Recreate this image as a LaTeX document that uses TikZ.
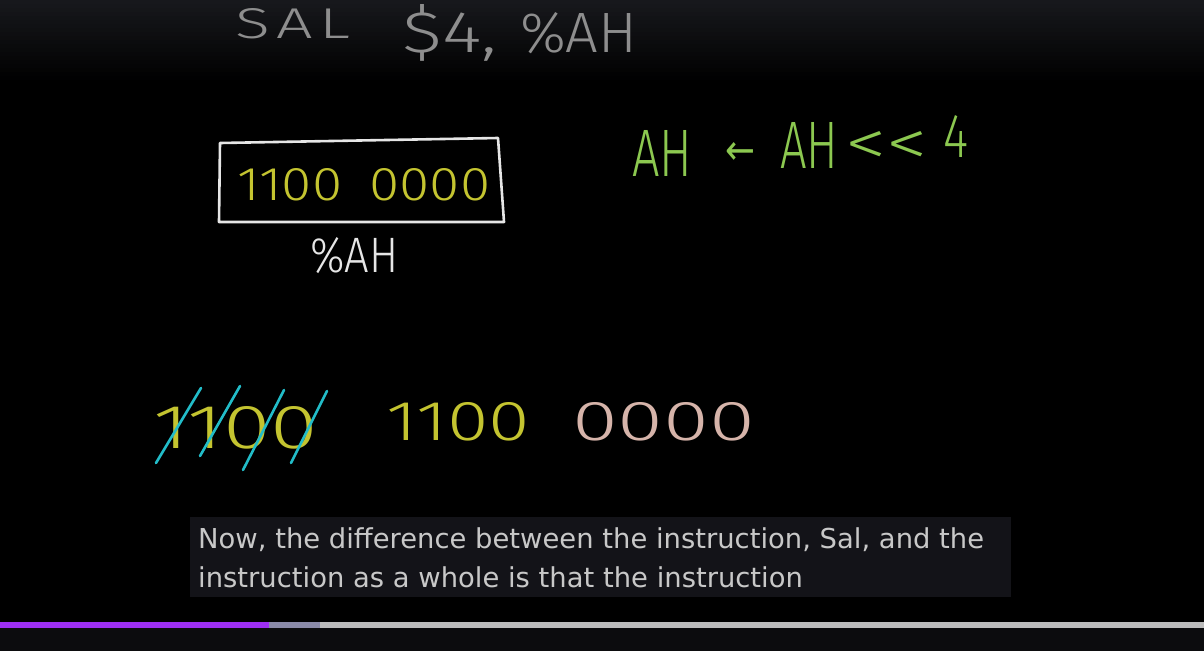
\documentclass[tikz,border=0pt]{standalone}
\usepackage{fontspec}
\setmainfont{DejaVu Sans}
\newfontfamily\handfont{Fira Sans Light}
\newfontfamily\symfont{DejaVu Sans}
\definecolor{topgray}{HTML}{17181C}
\definecolor{chalkgray}{HTML}{8E8E8E}
\definecolor{chalkwhite}{HTML}{E6E6E6}
\definecolor{chalkyellow}{HTML}{C4C430}
\definecolor{chalkgreen}{HTML}{8CC850}
\definecolor{chalkcyan}{HTML}{22BCC8}
\definecolor{chalkpink}{HTML}{D6B4AA}
\definecolor{capbg}{HTML}{131318}
\definecolor{captext}{HTML}{C8C8C8}
\definecolor{barpurple}{HTML}{9D2FF2}
\definecolor{barblue}{HTML}{8A8AA8}
\definecolor{barlight}{HTML}{BCBCBC}
\definecolor{bottomdark}{HTML}{0C0C0E}
\newcommand\handtxt[3]{\resizebox{#1pt}{#2pt}{\handfont #3}}
\tikzset{
  hand/.style={anchor=base west, inner sep=0pt},
  strike/.style={draw=chalkcyan, line width=2.6pt, line cap=round},
  captionline/.style={anchor=base west, inner sep=0pt, text=captext, font=\fontsize{27.4}{32}\selectfont}
}
\begin{document}
\begin{tikzpicture}[x=1pt,y=-1pt]
\useasboundingbox (0,0) rectangle (1204,651);
\fill[black] (0,0) rectangle (1204,651);
\foreach \i in {0,...,19}{
  \pgfmathsetmacro\p{100-5*\i}
  \fill[topgray!\p!black] (0,4*\i) rectangle (1204,4*\i+4.3);
}
\fill[bottomdark] (0,628) rectangle (1204,651);

% top title
\node[hand, text=chalkgray] (sal) at (235,38) {\handtxt{115}{30}{S\hspace{0.1em}A\hspace{0.1em}L}};
\node[hand, text=chalkgray] (imm) at (402,52) {\handtxt{95}{48}{\$4,}};
\node[hand, text=chalkgray] (reg) at (520,52) {\handtxt{117}{40}{\%AH}};

% register box
\coordinate (b1) at (220,143);
\coordinate (b2) at (498,138);
\coordinate (b3) at (504,222);
\coordinate (b4) at (219,222);
\draw[chalkwhite, line width=2.6pt, line join=round] (b1) -- (b2) -- (b3) -- (b4) -- cycle;
\node[hand, text=chalkyellow] (bits) at (237,200) {\handtxt{253}{32}{1100\hspace{0.5em}0000}};
\node[hand, text=chalkwhite] (ah) at (310,272) {\handtxt{88}{35}{\%AH}};

% green formula
\node[hand, text=chalkgreen] (dst) at (632,176) {\handtxt{60}{46}{AH}};
\node[hand, text=chalkgreen] (arrow) at (725,164) {\resizebox{30pt}{22pt}{\symfont ←}};
\node[hand, text=chalkgreen] (src) at (780,168) {\handtxt{58}{46}{AH}};
\node[hand, text=chalkgreen] (shl) at (845,165) {\handtxt{83}{34}{<<}};
\node[hand, text=chalkgreen] (cnt) at (943,157) {\handtxt{25}{42}{4}};

% bottom row
\node[hand, text=chalkyellow] (lost) at (153,448) {\handtxt{165}{42}{1100}};
\node[hand, text=chalkyellow] (keep) at (386,440) {\handtxt{144}{38}{1100}};
\node[hand, text=chalkpink] (zeros) at (572,440) {\handtxt{183}{38}{0000}};
\coordinate (s1a) at (156,463); \coordinate (s1b) at (201,388);
\coordinate (s2a) at (200,456); \coordinate (s2b) at (240,386);
\coordinate (s3a) at (243,470); \coordinate (s3b) at (284,390);
\coordinate (s4a) at (291,463); \coordinate (s4b) at (327,391);
\draw[strike] (s1a) -- (s1b);
\draw[strike] (s2a) -- (s2b);
\draw[strike] (s3a) -- (s3b);
\draw[strike] (s4a) -- (s4b);

% caption
\fill[capbg] (190,517) rectangle (1011,597);
\node[captionline] (cap1) at (198,548) {Now, the difference between the instruction, Sal, and the};
\node[captionline] (cap2) at (198,587) {instruction as a whole is that the instruction};

% progress bar
\fill[barpurple] (0,622) rectangle (269,628);
\fill[barblue] (269,622) rectangle (320,628);
\fill[barlight] (320,622) rectangle (1204,628);
\end{tikzpicture}
\end{document}
